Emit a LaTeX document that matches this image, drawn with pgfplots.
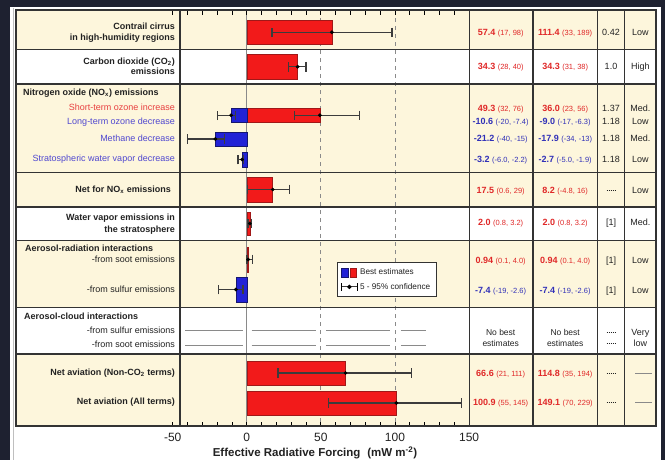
\documentclass[border=0pt]{standalone}
\usepackage{pgfplots}
\pgfplotsset{compat=1.18}
\usepackage{fontspec}
\setmainfont{Liberation Sans}
\newcommand\fsz[1]{\fontsize{#1}{#1}\selectfont}
\definecolor{darkbg}{HTML}{1E2130}
\definecolor{cream}{HTML}{FDF6DC}
\definecolor{framec}{HTML}{333333}
\definecolor{rred}{HTML}{F21A1A}
\definecolor{rredge}{HTML}{A01818}
\definecolor{bblue}{HTML}{2222D6}
\definecolor{bbedge}{HTML}{161670}
\definecolor{gridc}{HTML}{8A8A8A}
\definecolor{errc}{HTML}{3C3C3C}
\definecolor{vred}{HTML}{E02828}
\definecolor{vblue}{HTML}{3030B8}
\definecolor{lred}{HTML}{E84040}
\definecolor{lblue}{HTML}{5048D0}
\definecolor{txt}{HTML}{222222}
\newcommand\val[3]{{\color{#1}\bfseries #2 {\fsz{7.5}\mdseries(#3)}}}
\begin{document}
\begin{tikzpicture}
\fill[darkbg] (0,0) rectangle (665pt,-460pt);
\fill[white] (10pt,-7pt) rectangle (661pt,-460pt);
\draw[black!25, line width=0.8pt] (13pt,-8pt) -- (13pt,-460pt);
\begin{scope}[x=1pt,y=-1pt]
\fill[cream] (16,10) rectangle (656,49.3);
\fill[cream] (16,84) rectangle (656,207);
\fill[cream] (16,240.5) rectangle (656,307.3);
\fill[cream] (16,353.8) rectangle (656,426);
\end{scope}
\begin{axis}[
  at={(16pt,-426pt)}, anchor=south west,
  scale only axis, width=640pt, height=416pt,
  xmin=-155.74, xmax=276.11, ymin=10, ymax=426, y dir=reverse,
  axis on top, clip=false,
  axis line style={draw=framec, line width=1.2pt},
  xtick={-50,0,50,100,150},
  minor xtick={-40,-30,-20,-10,10,20,30,40,60,70,80,90,110,120,130,140},
  xtick pos=both, xticklabel pos=lower, tick align=inside,
  major tick length=4.5pt, minor tick length=4.5pt,
  tick style={black, line width=0.9pt},
  ytick=\empty,
  xticklabel style={font=\fsz{12}, anchor=center, yshift=-10.9pt, text=txt},
  /pgf/number format/assume math mode=true,
  xlabel={Effective Radiative Forcing\hspace{0.6em}(mW m\textsuperscript{-2})},
  xlabel style={at={(axis cs:46,453)}, anchor=center, font=\fsz{11.5}\bfseries, text=txt},
  legend style={at={(axis cs:60.9,262)}, anchor=north west, draw=framec, line width=1pt,
    fill=white, font=\fsz{8.2}, inner xsep=3.5pt, inner ysep=4pt, row sep=2pt,
    nodes={inner sep=2.4pt, text=txt}},
  legend cell align=left,
]
\draw[gridc, line width=0.8pt] (axis cs:0,10) -- (axis cs:0,426);
\draw[gridc, line width=0.9pt, dash pattern=on 4pt off 4pt] (axis cs:50,10) -- (axis cs:50,426);
\draw[gridc, line width=0.9pt, dash pattern=on 4pt off 4pt] (axis cs:100,10) -- (axis cs:100,426);
% aerosol-cloud: no best estimates
\addplot[forget plot, gridc, line width=0.8pt, unbounded coords=jump] coordinates {(-41.7,330) (-2.8,330) (nan,330) (3.3,330) (46.7,330) (nan,330) (53.4,330) (96.6,330) (nan,330) (104,330) (120.9,330)};
\addplot[forget plot, gridc, line width=0.8pt, unbounded coords=jump] coordinates {(-41.7,345) (-2.8,345) (nan,345) (3.3,345) (46.7,345) (nan,345) (53.4,345) (96.6,345) (nan,345) (104,345) (120.9,345)};
% bars
\addplot[forget plot, xbar, bar shift=0pt, bar width=23.3pt, fill=rred, draw=rredge, line width=0.5pt] coordinates {(57.4,32.3)};
\addplot[forget plot, xbar, bar shift=0pt, bar width=25pt, fill=rred, draw=rredge, line width=0.5pt] coordinates {(34.3,66.7)};
\addplot[forget plot, xbar, bar shift=0pt, bar width=14pt, fill=rred, draw=rredge, line width=0.5pt] coordinates {(49.3,115.3)};
\addplot[forget plot, xbar, bar shift=0pt, bar width=14pt, fill=bblue, draw=bbedge, line width=0.5pt] coordinates {(-10.6,115.3)};
\addplot[forget plot, xbar, bar shift=0pt, bar width=14.5pt, fill=bblue, draw=bbedge, line width=0.5pt] coordinates {(-21.2,139)};
\addplot[forget plot, xbar, bar shift=0pt, bar width=14.5pt, fill=bblue, draw=bbedge, line width=0.5pt] coordinates {(-3.2,159.5)};
\addplot[forget plot, xbar, bar shift=0pt, bar width=25.5pt, fill=rred, draw=rredge, line width=0.5pt] coordinates {(17.5,189.5)};
\addplot[forget plot, xbar, bar shift=0pt, bar width=23pt, fill=rred, draw=rredge, line width=0.5pt] coordinates {(2.0,223.5)};
\addplot[forget plot, xbar, bar shift=0pt, bar width=25pt, fill=rred, draw=rredge, line width=0.5pt] coordinates {(0.94,259.5)};
\addplot[forget plot, xbar, bar shift=0pt, bar width=25pt, fill=bblue, draw=bbedge, line width=0.5pt] coordinates {(-7.4,289.5)};
\addplot[forget plot, xbar, bar shift=0pt, bar width=24pt, fill=rred, draw=rredge, line width=0.5pt] coordinates {(66.6,373)};
\addplot[forget plot, xbar, bar shift=0pt, bar width=24pt, fill=rred, draw=rredge, line width=0.5pt] coordinates {(100.9,403)};
% 5-95% confidence
\addplot[forget plot, only marks, errc, line width=1.3pt, mark=*, mark size=1.7pt,
  mark options={fill=black, draw=black, line width=0.4pt},
  error bars/.cd, x dir=both, x explicit, error mark=|,
  error bar style={errc, line width=1.3pt},
  error mark options={errc, line width=1.3pt, mark size=4.8pt}]
coordinates {
(57.4,32.3) += (40.6,0) -= (40.4,0)
(34.3,66.7) += (5.7,0) -= (6.3,0)
(49.3,115.3) += (26.7,0) -= (17.3,0)
(-10.6,115.3) += (3.2,0) -= (9.4,0)
(-21.2,139) += (6.2,0) -= (18.8,0)
(-3.2,159.5) += (1.0,0) -= (2.8,0)
(17.5,189.5) += (11.5,0) -= (16.9,0)
(2.0,223.5) += (1.2,0) -= (1.2,0)
(0.94,259.5) += (3.06,0) -= (0.84,0)
(-7.4,289.5) += (4.8,0) -= (11.6,0)
(66.6,373) += (44.4,0) -= (45.6,0)
(100.9,403) += (44.1,0) -= (45.9,0)
};
\addlegendimage{legend image code/.code={
  \draw[fill=bblue, draw=bbedge, line width=0.5pt] (0pt,-4.5pt) rectangle (6.5pt,4.5pt);
  \draw[fill=rred, draw=rredge, line width=0.5pt] (8.5pt,-4.5pt) rectangle (15pt,4.5pt);}}
\addlegendentry{Best estimates}
\addlegendimage{legend image code/.code={
  \draw[errc, line width=1.1pt] (0pt,0pt) -- (15.5pt,0pt);
  \draw[black, line width=1.1pt] (0pt,-4pt) -- (0pt,4pt) (15.5pt,-4pt) -- (15.5pt,4pt);
  \fill[black] (7.75pt,0pt) circle (1.6pt);}}
\addlegendentry{5 - 95\% confidence}
\end{axis}
\begin{scope}[x=1pt,y=-1pt]
% table lines
\foreach \yy in {49.3,84,172.7,207,240.5,307.3}{\draw[framec, line width=1.2pt] (16,\yy) -- (656,\yy);}
\draw[framec, line width=1.7pt] (16,353.8) -- (656,353.8);
\foreach \xx in {180,469.1,533,597.5,624.7}{\draw[framec, line width=1.2pt] (\xx,10) -- (\xx,426);}
\draw[framec, line width=1.2pt] (16,10) rectangle (656,426);
% labels
\tikzset{lab/.style={inner sep=0pt, text height=6.4pt, text depth=0pt, font=\fsz{9}\bfseries, text=txt},
         sub/.style={inner sep=0pt, text height=6.4pt, text depth=0pt, font=\fsz{9}, text=txt},
         vv/.style={inner sep=0pt, text height=6.4pt, text depth=0pt, font=\fsz{9}, text=txt, anchor=center}}
\node[lab, anchor=east] at (175,26) {Contrail cirrus};
\node[lab, anchor=east] at (175,37.7) {in high-humidity regions};
\node[lab, anchor=east] at (175,61) {Carbon dioxide (CO\textsubscript{2})};
\node[lab, anchor=east] at (175,71.7) {emissions};
\node[lab, anchor=west] at (23,92.7) {Nitrogen oxide (NO\textsubscript{x}) emissions};
\node[sub, anchor=east, text=lred] at (175,107.7) {Short-term ozone increase};
\node[sub, anchor=east, text=lblue] at (175,121.7) {Long-term ozone decrease};
\node[sub, anchor=east, text=lblue] at (175,138.3) {Methane decrease};
\node[sub, anchor=east, text=lblue] at (175,158) {Stratospheric water vapor decrease};
\node[lab, anchor=east] at (171,189.3) {Net for NO\textsubscript{x} emissions};
\node[lab, anchor=east] at (175,217.7) {Water vapor emissions in};
\node[lab, anchor=east] at (175,229.3) {the stratosphere};
\node[lab, anchor=west] at (25,248.7) {Aerosol-radiation interactions};
\node[sub, anchor=east] at (175,259.3) {-from soot emissions};
\node[sub, anchor=east] at (175,289.3) {-from sulfur emissions};
\node[lab, anchor=west] at (24,316.7) {Aerosol-cloud interactions};
\node[sub, anchor=east] at (175,330) {-from sulfur emissions};
\node[sub, anchor=east] at (175,344) {-from soot emissions};
\node[lab, anchor=east] at (175,372.7) {Net aviation (Non-CO\textsubscript{2} terms)};
\node[lab, anchor=east] at (175,401.7) {Net aviation (All terms)};
% column 3 and 4
\node[vv] at (500.7,32) {\val{vred}{57.4}{17, 98}};
\node[vv] at (565.2,32) {\val{vred}{111.4}{33, 189}};
\node[vv] at (500.7,66.7) {\val{vred}{34.3}{28, 40}};
\node[vv] at (565.2,66.7) {\val{vred}{34.3}{31, 38}};
\node[vv] at (500.7,108.3) {\val{vred}{49.3}{32, 76}};
\node[vv] at (565.2,108.3) {\val{vred}{36.0}{23, 56}};
\node[vv] at (500.7,121.7) {\val{vblue}{-10.6}{-20, -7.4}};
\node[vv] at (565.2,121.7) {\val{vblue}{-9.0}{-17, -6.3}};
\node[vv] at (500.7,138.3) {\val{vblue}{-21.2}{-40, -15}};
\node[vv] at (565.2,138.3) {\val{vblue}{-17.9}{-34, -13}};
\node[vv] at (500.7,159) {\val{vblue}{-3.2}{-6.0, -2.2}};
\node[vv] at (565.2,159) {\val{vblue}{-2.7}{-5.0, -1.9}};
\node[vv] at (500.7,190) {\val{vred}{17.5}{0.6, 29}};
\node[vv] at (565.2,190) {\val{vred}{8.2}{-4.8, 16}};
\node[vv] at (500.7,222.7) {\val{vred}{2.0}{0.8, 3.2}};
\node[vv] at (565.2,222.7) {\val{vred}{2.0}{0.8, 3.2}};
\node[vv] at (500.7,260) {\val{vred}{0.94}{0.1, 4.0}};
\node[vv] at (565.2,260) {\val{vred}{0.94}{0.1, 4.0}};
\node[vv] at (500.7,290) {\val{vblue}{-7.4}{-19, -2.6}};
\node[vv] at (565.2,290) {\val{vblue}{-7.4}{-19, -2.6}};
\node[vv, font=\fsz{8.5}] at (500.7,332.3) {No best};
\node[vv, font=\fsz{8.5}] at (500.7,343.3) {estimates};
\node[vv, font=\fsz{8.5}] at (565.2,332.3) {No best};
\node[vv, font=\fsz{8.5}] at (565.2,343.3) {estimates};
\node[vv] at (500.7,373.3) {\val{vred}{66.6}{21, 111}};
\node[vv] at (565.2,373.3) {\val{vred}{114.8}{35, 194}};
\node[vv] at (500.7,402.7) {\val{vred}{100.9}{55, 145}};
\node[vv] at (565.2,402.7) {\val{vred}{149.1}{70, 229}};
% column 5
\node[vv] at (611,32) {0.42};
\node[vv] at (611,66.7) {1.0};
\node[vv] at (611,108.3) {1.37};
\node[vv] at (611,121.7) {1.18};
\node[vv] at (611,138.3) {1.18};
\node[vv] at (611,159) {1.18};
\node[vv] at (611,222.7) {[1]};
\node[vv] at (611,260) {[1]};
\node[vv] at (611,290) {[1]};
\foreach \yy in {190,332.3,343.3,373.3,402.7}{\draw[txt, line width=0.9pt, dash pattern=on 1.3pt off 0.7pt] (606.5,\yy) -- (616.3,\yy);}
% column 6
\node[vv] at (640.4,32) {Low};
\node[vv] at (640.4,66.7) {High};
\node[vv] at (640.4,108.3) {Med.};
\node[vv] at (640.4,121.7) {Low};
\node[vv] at (640.4,138.3) {Med.};
\node[vv] at (640.4,159) {Low};
\node[vv] at (640.4,190) {Low};
\node[vv] at (640.4,222.7) {Med.};
\node[vv] at (640.4,260) {Low};
\node[vv] at (640.4,290) {Low};
\node[vv] at (640.4,332.3) {Very};
\node[vv] at (640.4,343.3) {low};
\draw[gridc, line width=0.9pt] (635,373.3) -- (651.7,373.3);
\draw[gridc, line width=0.9pt] (635,402.7) -- (651.7,402.7);
\end{scope}
\pgfresetboundingbox
\path (0,0) rectangle (665pt,-460pt);
\end{tikzpicture}
\end{document}
